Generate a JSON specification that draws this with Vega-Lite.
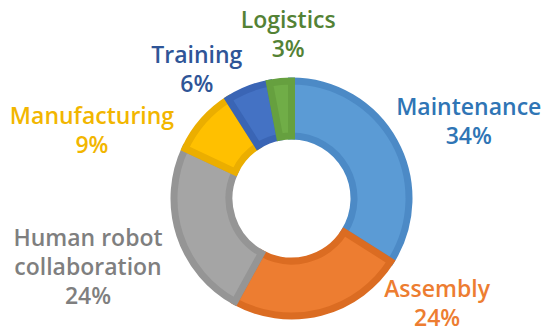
{
  "$schema": "https://vega.github.io/schema/vega-lite/v6.json",
  "width": 517,
  "height": 275,
  "autosize": "none",
  "padding": {"left": 33, "top": 61, "right": 0, "bottom": 0},
  "background": "white",
  "view": {"stroke": null},
  "data": {
    "values": [
      {"category": "Maintenance", "value": 34, "order": 1, "label": "Maintenance\n34%"},
      {"category": "Assembly", "value": 24, "order": 2, "label": "Assembly\n24%"},
      {"category": "Human robot collaboration", "value": 24, "order": 3, "label": "Human robot\ncollaboration\n24%"},
      {"category": "Manufacturing", "value": 9, "order": 4, "label": "Manufacturing\n9%"},
      {"category": "Training", "value": 6, "order": 5, "label": "Training\n6%"},
      {"category": "Logistics", "value": 3, "order": 6, "label": "Logistics\n3%"}
    ]
  },
  "transform": [
    {"stack": "value", "groupby": [], "sort": [{"field": "order", "order": "ascending"}], "as": ["v0", "v1"]},
    {"calculate": "(datum.v0 + datum.v1) / 2", "as": "mid"}
  ],
  "layer": [
    {
      "mark": {"type": "arc", "radius": 117.5, "radius2": 62.5, "strokeWidth": 7, "strokeJoin": "miter"},
      "encoding": {
        "theta": {"field": "v0", "type": "quantitative", "scale": {"domain": [0, 100]}},
        "theta2": {"field": "v1"},
        "fill": {
          "field": "category", "type": "nominal", "legend": null,
          "scale": {
            "domain": ["Maintenance", "Assembly", "Human robot collaboration", "Manufacturing", "Training", "Logistics"],
            "range": ["#5B9BD5", "#ED7D31", "#A5A5A5", "#FFC000", "#4472C4", "#70AD47"]
          }
        },
        "stroke": {
          "field": "category", "type": "nominal", "legend": null,
          "scale": {
            "domain": ["Maintenance", "Assembly", "Human robot collaboration", "Manufacturing", "Training", "Logistics"],
            "range": ["#4C8AC6", "#DB6C22", "#959595", "#EBAE00", "#3A65B5", "#66A03F"]
          }
        },
        "order": {"field": "order"}
      }
    },
    {
      "transform": [{"filter": "datum.category === 'Maintenance'"}],
      "mark": {"type": "text", "radius": 192, "dx": 9, "dy": 2, "lineBreak": "\n", "lineHeight": 29, "font": "Open Sans", "fontWeight": 600, "fontSize": 23, "align": "center", "baseline": "middle"},
      "encoding": {
        "theta": {"field": "mid", "type": "quantitative"},
        "text": {"field": "label"},
        "color": {"field": "category", "type": "nominal", "legend": null, "scale": {
          "domain": ["Maintenance", "Assembly", "Human robot collaboration", "Manufacturing", "Training", "Logistics"],
          "range": ["#2F75B5", "#ED7D31", "#7F7F7F", "#F2B600", "#2F5597", "#548235"]}}
      }
    },
    {
      "transform": [{"filter": "datum.category === 'Assembly'"}],
      "mark": {"type": "text", "radius": 139, "dx": 111, "dy": -43, "lineBreak": "\n", "lineHeight": 29, "font": "Open Sans", "fontWeight": 600, "fontSize": 23, "align": "center", "baseline": "middle"},
      "encoding": {
        "theta": {"field": "mid", "type": "quantitative"},
        "text": {"field": "label"},
        "color": {"field": "category", "type": "nominal", "legend": null}
      }
    },
    {
      "transform": [{"filter": "datum.category === 'Human robot collaboration'"}],
      "mark": {"type": "text", "radius": 215, "dx": 1, "dy": -26, "lineBreak": "\n", "lineHeight": 29, "font": "Open Sans", "fontWeight": 600, "fontSize": 23, "align": "center", "baseline": "middle"},
      "encoding": {
        "theta": {"field": "mid", "type": "quantitative"},
        "text": {"field": "label"},
        "color": {"field": "category", "type": "nominal", "legend": null}
      }
    },
    {
      "transform": [{"filter": "datum.category === 'Manufacturing'"}],
      "mark": {"type": "text", "radius": 194, "dx": -54, "dy": 47, "lineBreak": "\n", "lineHeight": 29, "font": "Open Sans", "fontWeight": 600, "fontSize": 23, "align": "center", "baseline": "middle"},
      "encoding": {
        "theta": {"field": "mid", "type": "quantitative"},
        "text": {"field": "label"},
        "color": {"field": "category", "type": "nominal", "legend": null}
      }
    },
    {
      "transform": [{"filter": "datum.category === 'Training'"}],
      "mark": {"type": "text", "radius": 154, "dx": -38, "dy": 1, "lineBreak": "\n", "lineHeight": 29, "font": "Open Sans", "fontWeight": 600, "fontSize": 23, "align": "center", "baseline": "middle"},
      "encoding": {
        "theta": {"field": "mid", "type": "quantitative"},
        "text": {"field": "label"},
        "color": {"field": "category", "type": "nominal", "legend": null}
      }
    },
    {
      "transform": [{"filter": "datum.category === 'Logistics'"}],
      "mark": {"type": "text", "radius": 163, "dx": 12, "dy": -15, "lineBreak": "\n", "lineHeight": 29, "font": "Open Sans", "fontWeight": 600, "fontSize": 23, "align": "center", "baseline": "middle"},
      "encoding": {
        "theta": {"field": "mid", "type": "quantitative"},
        "text": {"field": "label"},
        "color": {"field": "category", "type": "nominal", "legend": null}
      }
    }
  ]
}
